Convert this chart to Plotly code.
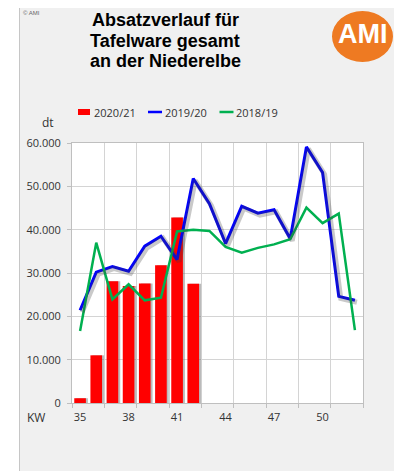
import plotly.graph_objects as go

# ---- data ----
weeks = list(range(35, 53))
sales_2020_21 = [1100, 11000, 28100, 27000, 27600, 31800, 42800, 27500]
sales_2019_20 = [21400, 30200, 31500, 30400, 36200, 38500, 33100, 51800, 46000,
                 36800, 45400, 43800, 44600, 37900, 59100, 53200, 24600, 23700]
sales_2018_19 = [16600, 37000, 23900, 27400, 23700, 24300, 39600, 40000, 39700,
                 36000, 34700, 35800, 36600, 37800, 45100, 41500, 43700, 16800]
series_names = ["2020/21", "2019/20", "2018/19"]
series_colors = ["#ff0000", "#0000ff", "#00b050"]
x_tick_weeks = [35, 38, 41, 44, 47, 50]
x_tick_labels = [str(w) for w in x_tick_weeks]
y_tick_values = [0, 10000, 20000, 30000, 40000, 50000, 60000]
y_tick_labels = ["0", "10.000", "20.000", "30.000", "40.000", "50.000", "60.000"]
grid_boundaries = [34.5 + 2 * i for i in range(10)]
title_lines = ["Absatzverlauf für", "Tafelware gesamt", "an der Niederelbe"]

# page body has an 8px margin -> figure is 8px smaller, drawn at (8, 8)
OFF = 8
W, H = 402 - OFF, 471 - OFF
PL, PR, PT, PB = 72, 363, 143, 403      # plot area in window pixels
L, R, T, B = PL - OFF, W - (PR - OFF), PT - OFF, H - (PB - OFF)
pw, ph = PR - PL, PB - PT

def px(x):  # window px -> paper x
    return (x - PL) / pw

def py(y):  # window px -> paper y
    return (PB - y) / ph

FONT = "Open Sans, Liberation Sans, sans-serif"
ARIAL = "Liberation Sans, Arial, sans-serif"
TXT = "#333333"
GRID = "#d4d4d4"

xrange_ = [34.5, 52.5]
yrange_ = [0, 60000]
dx = 2 / (pw / 18)          # ~2px shadow shift in category units
dy = 2 * 60000 / ph         # ~2px shadow shift in value units

weeks_bar = weeks[:len(sales_2020_21)]
bw = 0.72

fig = go.Figure()
fig.add_trace(go.Bar(x=weeks_bar, y=sales_2020_21, width=bw, offset=-bw / 2 + dx,
                     marker=dict(color="rgba(120,120,120,0.5)", line=dict(width=0)),
                     showlegend=False, hoverinfo="skip"))
fig.add_trace(go.Bar(x=weeks_bar, y=sales_2020_21, width=bw, offset=-bw / 2,
                     name=series_names[0], showlegend=False,
                     marker=dict(color=series_colors[0], line=dict(width=0))))
fig.add_trace(go.Scatter(x=weeks, y=sales_2019_20, mode="lines", xaxis="x3", yaxis="y3",
                         line=dict(color="rgba(60,60,60,0.28)", width=5),
                         showlegend=False, hoverinfo="skip"))
fig.add_trace(go.Scatter(x=weeks, y=sales_2019_20, mode="lines", name=series_names[1],
                         showlegend=False, line=dict(color=series_colors[1], width=3)))
fig.add_trace(go.Scatter(x=weeks, y=sales_2018_19, mode="lines", name=series_names[2],
                         showlegend=False, line=dict(color=series_colors[2], width=2.5)))
fig.add_trace(go.Scatter(x=x_tick_weeks, y=[None] * len(x_tick_weeks), xaxis="x2",
                         showlegend=False, hoverinfo="skip"))

shapes = [
    dict(type="rect", xref="paper", yref="paper", x0=px(19.5), x1=px(399.5),
         y0=py(490), y1=py(6.5), fillcolor="#f0f0f0",
         line=dict(color="#c6c6c6", width=1), layer="below"),
    dict(type="rect", xref="paper", yref="paper", x0=0, x1=1, y0=0, y1=1,
         fillcolor="#ffffff", line=dict(width=0), layer="below"),
    dict(type="circle", xref="paper", yref="paper", x0=px(332), x1=px(393),
         y0=py(62), y1=py(11), fillcolor="#ee7a22", line=dict(width=0)),
    # legend keys
    dict(type="rect", xref="paper", yref="paper", x0=px(78), x1=px(90),
         y0=py(115), y1=py(109), fillcolor=series_colors[0], line=dict(width=0)),
    dict(type="line", xref="paper", yref="paper", x0=px(148), x1=px(162),
         y0=py(112), y1=py(112), line=dict(color=series_colors[1], width=2.5)),
    dict(type="line", xref="paper", yref="paper", x0=px(219.5), x1=px(233.5),
         y0=py(112), y1=py(112), line=dict(color=series_colors[2], width=2.5)),
]

annotations = [
    dict(text="<b>AMI</b>", xref="paper", yref="paper", x=px(362.5), y=py(34),
         showarrow=False, font=dict(family=ARIAL, size=27, color="white"),
         xanchor="center", yanchor="middle"),
    dict(text="© AMI", xref="paper", yref="paper", x=px(21), y=py(13), showarrow=False,
         font=dict(family=ARIAL, size=6, color="#666666"),
         xanchor="left", yanchor="middle"),
    dict(text="dt", xref="paper", yref="paper", x=px(48), y=py(122), showarrow=False,
         font=dict(family=FONT, size=12, color=TXT), xanchor="center", yanchor="middle"),
    dict(text="KW", xref="paper", yref="paper", x=px(36), y=py(417), showarrow=False,
         font=dict(family=FONT, size=12, color=TXT), xanchor="center", yanchor="middle"),
]
for line_text, yc in zip(title_lines, [20, 40.5, 61]):
    annotations.append(dict(text="<b>" + line_text + "</b>", xref="paper", yref="paper",
                            x=px(165), y=py(yc), showarrow=False,
                            font=dict(family=ARIAL, size=18, color="black"),
                            xanchor="center", yanchor="middle"))
for name, xl in zip(series_names, [91.5, 162.5, 233.5]):
    annotations.append(dict(text=name, xref="paper", yref="paper", x=px(xl), y=py(112.5),
                            showarrow=False, xanchor="left", yanchor="middle",
                            font=dict(family=FONT, size=11, color=TXT)))

fig.update_layout(
    width=W, height=H,
    margin=dict(l=L, r=R, t=T, b=B, pad=0),
    paper_bgcolor="white", plot_bgcolor="white",
    barmode="overlay",
    showlegend=False,
    font=dict(family=FONT, size=11, color=TXT),
    xaxis=dict(range=xrange_, tickmode="array", tickvals=x_tick_weeks,
               ticktext=[""] * len(x_tick_weeks), ticks="", showgrid=False, zeroline=False,
               showline=True, linecolor="#bfbfbf", mirror=True,
               minor=dict(tickmode="array", tickvals=grid_boundaries, showgrid=True,
                          gridcolor=GRID, ticks="outside", ticklen=4, tickcolor="#bfbfbf")),
    xaxis2=dict(overlaying="x", range=xrange_, tickmode="array", tickvals=x_tick_weeks,
                ticktext=x_tick_labels, ticks="", showgrid=False, zeroline=False,
                showline=False, side="bottom", ticklabelstandoff=6,
                tickfont=dict(family=FONT, size=11, color=TXT)),
    xaxis3=dict(overlaying="x", range=[xrange_[0] - dx, xrange_[1] - dx], visible=False),
    yaxis=dict(range=yrange_, tickmode="array", tickvals=y_tick_values,
               ticktext=y_tick_labels, ticks="outside", ticklen=4, tickcolor="#bfbfbf",
               showgrid=True, gridcolor=GRID, zeroline=False, showline=True,
               linecolor="#bfbfbf", mirror=True, ticklabelstandoff=4,
               tickfont=dict(family=FONT, size=11, color=TXT)),
    yaxis3=dict(overlaying="y", range=[yrange_[0] + dy, yrange_[1] + dy], visible=False),
    shapes=shapes,
    annotations=annotations,
)

fig.write_html("out.html")
